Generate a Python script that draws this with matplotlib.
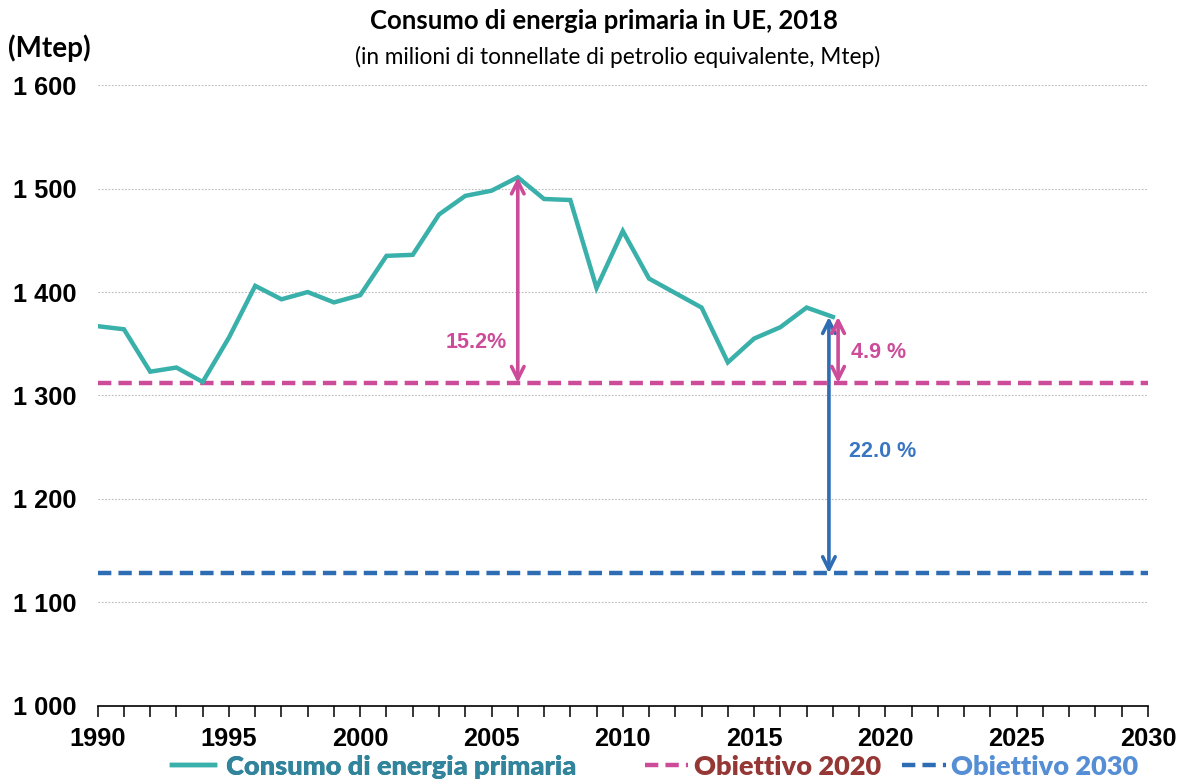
import matplotlib.pyplot as plt
from matplotlib.ticker import MultipleLocator, FuncFormatter

# dati (Mtep)
anni = list(range(1990, 2019))
consumo = [1367, 1364, 1323, 1327, 1313, 1356, 1406, 1393, 1400, 1390,
           1397, 1435, 1436, 1475, 1493, 1498, 1511, 1490, 1489, 1404,
           1459, 1413, 1399, 1385, 1332, 1355, 1366, 1385, 1376]
obiettivo_2020 = 1312
obiettivo_2030 = 1128
etichette_pct = ['15.2%', '4.9 %', '22.0 %']

teal = '#3AB0AA'
rosa = '#CC4C99'
blu = '#2E6DB4'
tratteggio = (0, (3.0, 1.6))

fig = plt.figure(figsize=(11.81, 7.82), dpi=100)
ax = fig.add_axes([0.0827, 0.0976, 0.8893, 0.7934])

l1, = ax.plot(anni, consumo, color=teal, lw=3.2, solid_joinstyle='miter', zorder=4,
              label='Consumo di energia primaria')
l2 = ax.axhline(obiettivo_2020, color=rosa, lw=3.2, ls=tratteggio, zorder=3, label='Obiettivo 2020')
l3 = ax.axhline(obiettivo_2030, color=blu, lw=3.2, ls=tratteggio, zorder=3, label='Obiettivo 2030')

# frecce
picco = max(consumo)
anno_picco = anni[consumo.index(picco)]
ultimo = consumo[-1]
stile = '<->,head_length=0.9,head_width=0.45'
ax.annotate('', xy=(anno_picco, obiettivo_2020), xytext=(anno_picco, picco),
            arrowprops=dict(arrowstyle=stile, color=rosa, lw=2.6, shrinkA=0, shrinkB=0), zorder=5)
ax.annotate('', xy=(anni[-1] - 0.15, obiettivo_2030), xytext=(anni[-1] - 0.15, ultimo),
            arrowprops=dict(arrowstyle=stile, color=blu, lw=2.6, shrinkA=0, shrinkB=0), zorder=5)
ax.annotate('', xy=(anni[-1] + 0.2, obiettivo_2020), xytext=(anni[-1] + 0.2, ultimo),
            arrowprops=dict(arrowstyle=stile, color=rosa, lw=2.6, shrinkA=0, shrinkB=0), zorder=6)

ax.text(2005.6, 1351, etichette_pct[0], color=rosa, fontsize=15.5, fontweight='bold',
        family='Liberation Sans', ha='right', va='center')
ax.text(2018.7, 1342, etichette_pct[1], color=rosa, fontsize=15.5, fontweight='bold',
        family='Liberation Sans', ha='left', va='center')
ax.text(2018.6, 1246, etichette_pct[2], color='#3A75C4', fontsize=15.5, fontweight='bold',
        family='Liberation Sans', ha='left', va='center')

ax.set_xlim(1990, 2030)
ax.set_ylim(1000, 1600)
ax.xaxis.set_major_locator(MultipleLocator(5))
ax.xaxis.set_minor_locator(MultipleLocator(1))
ax.yaxis.set_major_locator(MultipleLocator(100))
ax.yaxis.set_major_formatter(FuncFormatter(lambda v, p: f'{v:,.0f}'.replace(',', ' ')))
ax.grid(axis='y', color='#BBBBBB', ls=(0, (1.5, 1.5)), lw=0.8)
ax.set_axisbelow(True)
for s in ['top', 'right', 'left']:
    ax.spines[s].set_visible(False)
ax.spines['bottom'].set_linewidth(1.2)
ax.tick_params(axis='x', which='both', direction='out', length=8, width=1.1, pad=7)
ax.tick_params(axis='y', length=0, pad=15.5)
for lab in ax.get_xticklabels() + ax.get_yticklabels():
    lab.set_fontfamily('Liberation Sans')
    lab.set_fontweight('bold')
    lab.set_fontsize(18.3)

fig.text(0.511, 0.973, 'Consumo di energia primaria in UE, 2018', ha='center', va='center',
         fontsize=18.5, fontweight='bold', family='Lato')
fig.text(0.523, 0.927, '(in milioni di tonnellate di petrolio equivalente, Mtep)', ha='center',
         va='center', fontsize=16.3, family='Lato')
fig.text(0.007, 0.938, '(Mtep)', ha='left', va='center', fontsize=20, fontweight='bold', family='Lato')

prop = dict(family='Lato', weight='heavy', size=19.5)
leg1 = fig.legend(handles=[l1], loc='lower left', bbox_to_anchor=(0.1456, 0.004), frameon=False,
                  handlelength=1.6, handletextpad=0.4, borderpad=0, borderaxespad=0, prop=prop)
leg2 = fig.legend(handles=[l2, l3], loc='lower left', bbox_to_anchor=(0.546, 0.004), ncol=2,
                  frameon=False, handlelength=1.6, handletextpad=0.2, columnspacing=0.8,
                  borderpad=0, borderaxespad=0, prop=prop)
fig.add_artist(leg1)
leg1.get_texts()[0].set_color('#31849B')
for t, c in zip(leg2.get_texts(), ['#953735', '#558ED5']):
    t.set_color(c)

fig.savefig('out.png', dpi=100)
